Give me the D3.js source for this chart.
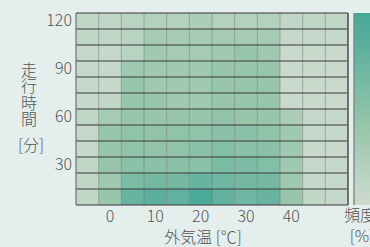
<!DOCTYPE html>
<html>
<head>
<meta charset="utf-8">
<script src="https://cdn.jsdelivr.net/npm/d3@7"></script>
<style>
  html,body{margin:0;padding:0;background:#e4eeec;}
  svg{display:block;}
  text{font-family:"Noto Sans CJK JP","Noto Sans",sans-serif;font-weight:300;fill:#555;}
</style>
</head>
<body>
<div id="mapa"></div>
<script>
// bins de temperatura (centro de cada columna) y tiempo (centro de cada fila)
var tempBins=[-5,0,5,10,15,20,25,30,35,40,45,50];
var timeBins=[120,110,100,90,80,70,60,50,40,30,20,10];
var xTicks=[0,10,20,30,40];
var yTicks=[120,90,60,30];

// frecuencia [%] por fila (de 120 min a 10 min), columnas = tempBins
var f120=[1,1,1.5,2,2,2.5,2,2,2,1,1,1];
var f110=[1,1,1.5,3,3,3,3,3,3,0.5,0.5,0.5];
var f100=[0.5,0.5,1.5,3.5,3,3,3.5,4,3.5,0.3,0.3,0.3];
var f90=[0.5,0.5,3.5,3.5,3.5,3.5,4,4,4,0.3,0.3,0.3];
var f80=[0.5,0.5,4,3.5,3.5,3.5,4,4,4,0.3,0.3,0.3];
var f70=[0.5,1,4,4,3.5,3.5,4,4,4,0.3,0.3,0.3];
var f60=[1,3,4,4,4,4,4.5,4,4,2.5,0.5,0.5];
var f50=[0.5,4,4.5,4.5,4.5,4.5,5,5,4.5,3.5,0.5,0.5];
var f40=[0.5,4,4.5,4.5,4.5,5,5.5,5,5,3.5,0.3,0.3];
var f30=[1,4,5,5,5,5,6,6,5.5,3.5,0.5,0.5];
var f20=[1,3.5,6,6.5,6.5,7.5,7,6.5,6.5,3.5,0.5,0.5];
var f10=[1,4,7.5,8.5,8,9.5,8,7,7.5,4,1,0.5];
var filas=[f120,f110,f100,f90,f80,f70,f60,f50,f40,f30,f20,f10];

mapaCalor();

function mapaCalor(){
	var ancho=370, alto=247;
	var svg=d3.select("#mapa").append("svg")
		.attr("width",ancho).attr("height",alto);

	var x=d3.scaleBand().domain(tempBins).range([76,348]);
	var y=d3.scaleBand().domain(timeBins).range([13,205]);
	var color=d3.scaleLinear()
		.domain([0,4,10])
		.range(["#cddbcf","#98c6ab","#45a798"]);

	//celdas
	var celdas=[];
	filas.forEach(function(fila,i){
		fila.forEach(function(v,j){
			celdas.push({t:tempBins[j],m:timeBins[i],v:v});
		});
	});
	svg.selectAll(".celda").data(celdas).enter().append("rect")
		.attr("x",d=>x(d.t)).attr("y",d=>y(d.m))
		.attr("width",x.bandwidth()).attr("height",y.bandwidth())
		.style("fill",d=>color(d.v));

	//lineas verticales finas
	var bordesX=tempBins.map(d=>x(d)).concat([x.range()[1]]);
	svg.selectAll(".vl").data(bordesX).enter().append("line")
		.attr("x1",d=>d).attr("x2",d=>d)
		.attr("y1",13).attr("y2",205)
		.style("stroke","#6f6f6f").style("stroke-opacity",0.5).style("stroke-width",1);
	//lineas horizontales gruesas
	var bordesY=timeBins.map(d=>y(d)).concat([y.range()[1]]);
	svg.selectAll(".hl").data(bordesY).enter().append("line")
		.attr("x1",76).attr("x2",348)
		.attr("y1",d=>d).attr("y2",d=>d)
		.style("stroke","#3e3e3e").style("stroke-opacity",0.7).style("stroke-width",1.6);
	//bordes
	svg.append("line").attr("x1",348).attr("x2",348).attr("y1",13).attr("y2",205)
		.style("stroke","#555").style("stroke-width",1.5);
	svg.append("line").attr("x1",76).attr("x2",76).attr("y1",13).attr("y2",205)
		.style("stroke","#777").style("stroke-width",1);

	//ejes
	var ejeX=svg.append("g").attr("transform","translate(0,205)")
		.call(d3.axisBottom(x).tickValues(xTicks).tickSize(0).tickPadding(6));
	var ejeY=svg.append("g").attr("transform","translate(76,0)")
		.call(d3.axisLeft(y).tickValues(yTicks).tickSize(0).tickPadding(4));
	[ejeX,ejeY].forEach(function(e){
		e.select(".domain").remove();
		e.selectAll("text").style("font-size","16px").style("fill","#555")
			.style("font-weight",300)
			.style("font-family","'Noto Sans CJK JP',sans-serif");
	});

	//titulos
	svg.append("text").attr("x",203).attr("y",243)
		.attr("text-anchor","middle").style("font-size","16px").text("外気温 [℃]");
	var tituloY=["走","行","時","間"];
	svg.selectAll(".ty").data(tituloY).enter().append("text")
		.attr("x",29).attr("y",(d,i)=>76+i*16.3)
		.attr("text-anchor","middle").style("font-size","16px")
		.text(d=>d);
	svg.append("text").attr("x",31).attr("y",151)
		.attr("text-anchor","middle").style("font-size","16px").text("[分]");

	//barra de color
	var defs=svg.append("defs");
	var grad=defs.append("linearGradient").attr("id","grad")
		.attr("x1",0).attr("x2",0).attr("y1",1).attr("y2",0);
	d3.range(0,10.01,1).forEach(function(v){
		grad.append("stop").attr("offset",v/10).attr("stop-color",color(v));
	});
	svg.append("rect").attr("x",354).attr("y",13).attr("width",20).attr("height",192)
		.style("fill","url(#grad)");
	svg.append("line").attr("x1",354).attr("x2",354).attr("y1",13).attr("y2",205)
		.style("stroke","#888").style("stroke-width",1.5);
	svg.append("text").attr("x",360).attr("y",221)
		.attr("text-anchor","middle").style("font-size","16px").text("頻度");
	svg.append("text").attr("x",362).attr("y",242)
		.attr("text-anchor","middle").style("font-size","16px").text("[%]");
}
</script>
</body>
</html>
